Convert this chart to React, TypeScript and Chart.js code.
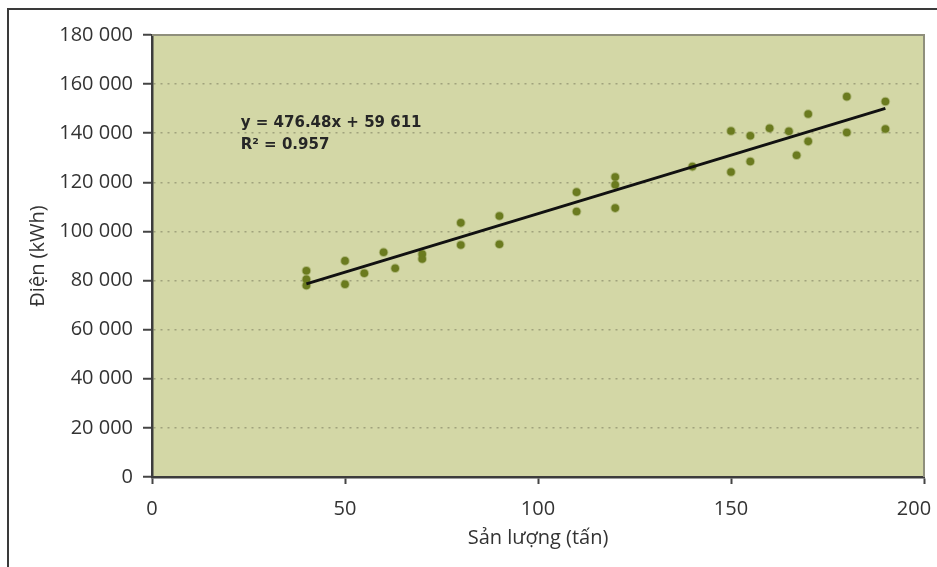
import React, { useEffect, useRef } from "react";
import { Chart, registerables } from "chart.js";

Chart.register(...registerables);

const xValues = [40, 40, 40, 50, 50, 55, 60, 63, 70, 70, 80, 80, 90, 90, 110, 110, 120, 120, 120, 140, 150, 150, 155, 155, 160, 165, 167, 170, 170, 180, 180, 190, 190];
const yValues = [84000, 80500, 78000, 88000, 78500, 83000, 91500, 85000, 90800, 88800, 103500, 94500, 106300, 94800, 116000, 108100, 122200, 119000, 109500, 126400, 140900, 124200, 139000, 128500, 142000, 140800, 131000, 147800, 136700, 154900, 140300, 152900, 141700];

const slope = 476.48;
const intercept = 59611;
const trendX = [40, 190];
const equationLines = ["y = 476.48x + 59 611", "R² = 0.957"];

const xTicks = [0, 50, 100, 150, 200];
const yTicks = [0, 20000, 40000, 60000, 80000, 100000, 120000, 140000, 160000, 180000];

const FONT = "'Open Sans', 'DejaVu Sans', sans-serif";

const fmt = (v: number) => String(v).replace(/\B(?=(\d{3})+(?!\d))/g, " ");

const plotDecor = {
  id: "plotDecor",
  beforeDraw(chart: any) {
    const { ctx, chartArea: a } = chart;
    ctx.save();
    ctx.fillStyle = "#d3d7a6";
    ctx.fillRect(a.left, a.top, a.right - a.left, a.bottom - a.top);
    ctx.restore();
  },
  beforeDatasetsDraw(chart: any) {
    const { ctx, chartArea: a } = chart;
    ctx.save();
    ctx.strokeStyle = "#8f8f7c";
    ctx.lineWidth = 2;
    ctx.beginPath();
    ctx.moveTo(a.left, a.top);
    ctx.lineTo(a.right, a.top);
    ctx.lineTo(a.right, a.bottom);
    ctx.stroke();
    ctx.restore();
  },
  afterDatasetsDraw(chart: any) {
    const { ctx } = chart;
    const xs = chart.scales.x;
    const ys = chart.scales.y;
    const px = xs.getPixelForValue(23);
    const py = ys.getPixelForValue(142400);
    ctx.save();
    ctx.fillStyle = "#262626";
    ctx.font = "bold 15px 'DejaVu Sans', sans-serif";
    ctx.textBaseline = "alphabetic";
    ctx.textAlign = "left";
    equationLines.forEach((t, i) => ctx.fillText(t, px, py + i * 22));
    ctx.restore();
  },
};

export default function App() {
  const ref = useRef<HTMLCanvasElement | null>(null);

  useEffect(() => {
    if (!ref.current) return;
    const points = xValues.map((x, i) => ({ x, y: yValues[i] }));
    const trend = trendX.map((x) => ({ x, y: slope * x + intercept }));
    const lastX = xTicks[xTicks.length - 1];
    const chart = new Chart(ref.current, {
      type: "scatter",
      data: {
        datasets: [
          {
            label: "Data",
            data: points,
            backgroundColor: "#6b7b1f",
            borderColor: "rgba(107,123,31,0.35)",
            borderWidth: 2,
            pointRadius: 3.8,
            pointHoverRadius: 3.8,
            order: 2,
          },
          {
            label: "Trend",
            type: "line",
            data: trend,
            borderColor: "#111111",
            borderWidth: 3,
            pointRadius: 0,
            fill: false,
            order: 1,
          } as any,
        ],
      },
      plugins: [plotDecor],
      options: {
        responsive: false,
        animation: false,
        events: [],
        layout: { padding: { left: 0, right: 13, top: 35, bottom: 0 } },
        plugins: { legend: { display: false }, tooltip: { enabled: false }, title: { display: false } },
        scales: {
          x: {
            type: "linear",
            min: 0,
            max: 200,
            afterBuildTicks: (s: any) => { s.ticks = xTicks.map((v) => ({ value: v })); },
            afterFit: (s: any) => { s.height = 90; s.paddingRight = 0; s.paddingLeft = 0; },
            ticks: {
              color: "#333333",
              font: { family: FONT, size: 20 },
              padding: 13,
              maxRotation: 0,
              callback: (v: any) => (Number(v) === lastX ? String(v) + "\u2003" : String(v)),
            },
            grid: { drawOnChartArea: false, drawTicks: true, tickLength: 7, tickColor: "#444444", tickWidth: 2 },
            border: { display: true, color: "#3c3c3c", width: 2.5 },
            title: { display: true, text: "Sản lượng (tấn)", color: "#333333", font: { family: FONT, size: 20 }, padding: { top: 0, bottom: 17 } },
          },
          y: {
            type: "linear",
            min: 0,
            max: 180000,
            afterBuildTicks: (s: any) => { s.ticks = yTicks.map((v) => ({ value: v })); },
            afterFit: (s: any) => { s.width = 152; },
            ticks: { color: "#333333", font: { family: FONT, size: 20 }, padding: 10, callback: (v: any) => fmt(Number(v)) },
            grid: {
              drawOnChartArea: true,
              drawTicks: true,
              tickLength: 9,
              tickColor: "#444444",
              tickWidth: 2,
              lineWidth: 1.5,
              color: (c: any) => (c.tick && (c.tick.value === 0 || c.tick.value === 180000) ? "rgba(0,0,0,0)" : "#a0a27c"),
            },
            border: { display: true, color: "#3c3c3c", width: 2.5, dash: [2, 5] },
            title: { display: true, text: "Điện (kWh)", color: "#333333", font: { family: FONT, size: 20 }, padding: { top: 26, bottom: 0 } },
          },
        },
      } as any,
    });
    return () => chart.destroy();
  }, []);

  return (
    <div style={{ position: "absolute", left: 0, top: 0, width: 937, height: 567, overflow: "hidden", background: "#ffffff" }}>
      <div style={{ position: "absolute", left: 7, top: 8, width: 2000, height: 2000, borderLeft: "2px solid #3a3a3a", borderTop: "2px solid #3a3a3a" }} />
      <canvas ref={ref} width={937} height={567} style={{ position: "absolute", left: 0, top: 0 }} />
    </div>
  );
}
